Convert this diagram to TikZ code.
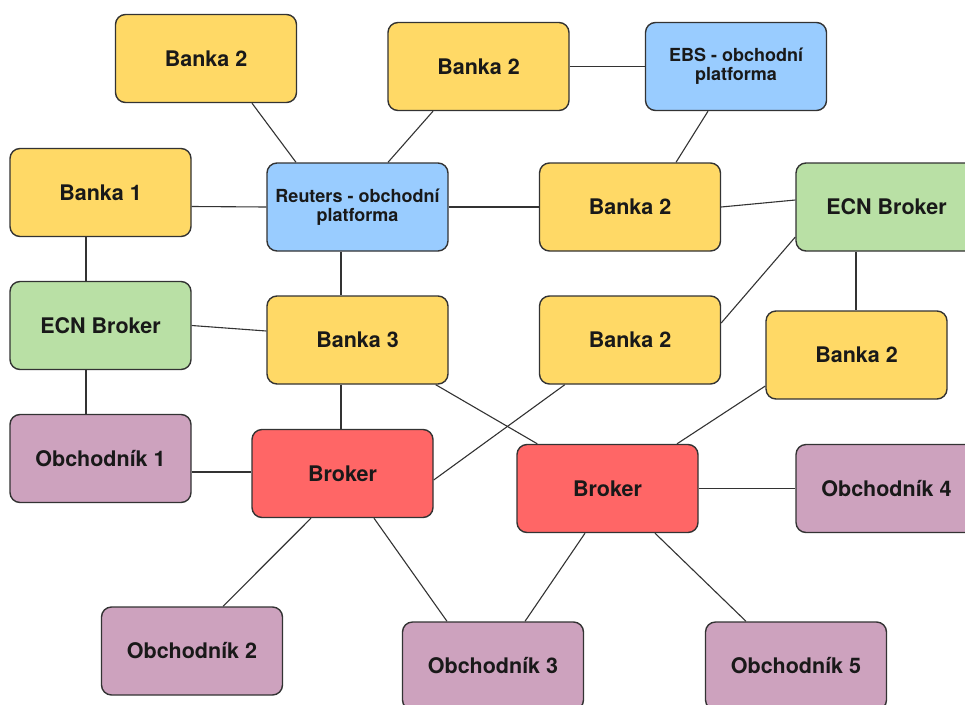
\documentclass[tikz,border=0pt]{standalone}
\usepackage{fontspec}
\setmainfont{TeX Gyre Heros}
\usepackage{tikz}
\usetikzlibrary{positioning}
\definecolor{bankfill}{HTML}{FFD966}
\definecolor{platfill}{HTML}{99CCFF}
\definecolor{ecnfill}{HTML}{B9E0A5}
\definecolor{brokfill}{HTML}{FF6666}
\definecolor{tradfill}{HTML}{CDA2BE}
\definecolor{edgecol}{HTML}{333333}

\begin{document}
\begin{tikzpicture}[x=1pt, y=-1pt,
        box/.style = {draw=edgecol, line width=1.4pt, rounded corners=10pt,
            minimum width=181pt, minimum height=88pt, inner sep=0pt,
            align=center, text=black!90,
            font=\bfseries\fontsize{21.5}{24}\selectfont},
        bank/.style = {box, fill=bankfill},
        platform/.style = {box, fill=platfill,
            font=\bfseries\fontsize{18}{19}\selectfont},
        ecn/.style = {box, fill=ecnfill},
        broker/.style = {box, fill=brokfill},
        trader/.style = {box, fill=tradfill},
        link/.style = {draw=edgecol, line width=1.1pt}]
    \clip (0,0) rectangle (965,704);
    \fill[white] (0,0) rectangle (965,704);

    \node[bank] (bankaA) at (206,58.5) {Banka 2};
    \node[bank] (bankaB) at (478.5,66.5) {Banka 2};
    \node[platform] (ebs) at (736,66.5) {EBS - obchodní\\platforma};
    \node[bank] (banka1) at (100.5,192.5) {Banka 1};
    \node[platform] (reuters) at (357.5,207) {Reuters - obchodní\\platforma};
    \node[bank] (bankaC) at (630,207) {Banka 2};
    \node[ecn] (ecnRight) at (886.5,207) {ECN Broker};
    \node[ecn] (ecnLeft) at (100.5,325.5) {ECN Broker};
    \node[bank] (banka3) at (357.5,340) {Banka 3};
    \node[bank] (bankaD) at (630,340) {Banka 2};
    \node[bank] (bankaE) at (856.5,355) {Banka 2};
    \node[trader] (obch1) at (100.5,458.5) {Obchodník 1};
    \node[broker] (brokerL) at (342.5,473.5) {Broker};
    \node[broker] (brokerR) at (607.5,488.5) {Broker};
    \node[trader] (obch4) at (886.5,488.5) {Obchodník 4};
    \node[trader] (obch2) at (192,651) {Obchodník 2};
    \node[trader] (obch3) at (493,666) {Obchodník 3};
    \node[trader] (obch5) at (796,666) {Obchodník 5};

    \draw[link] ([xshift=46pt]bankaA.south) -- ([xshift=-61.5pt]reuters.north);
    \draw[link] ([xshift=-45.5pt]bankaB.south) -- ([xshift=30.5pt]reuters.north);
    \draw[link] (bankaB.east) -- (ebs.west);
    \draw[link] ([xshift=-28pt]ebs.south) -- ([xshift=46pt]bankaC.north);
    \draw[link] ([yshift=-14pt]banka1.east) -- (reuters.west);
    \draw[link] (reuters.east) -- (bankaC.west);
    \draw[link] (bankaC.east) -- ([yshift=7pt]ecnRight.west);
    \draw[link] ([xshift=-14.5pt]banka1.south) -- ([xshift=-14.5pt]ecnLeft.north);
    \draw[link] ([xshift=-16.5pt]reuters.south) -- ([xshift=-16.5pt]banka3.north);
    \draw[link] (ecnLeft.east) -- ([yshift=9pt]banka3.west);
    \draw[link] ([yshift=-30pt]ecnRight.west) -- ([yshift=17pt]bankaD.east);
    \draw[link] ([xshift=-30.5pt]ecnRight.south) -- ([xshift=-0.5pt]bankaE.north);
    \draw[link] ([xshift=-16.5pt]banka3.south) -- ([xshift=-1.5pt]brokerL.north);
    \draw[link] ([xshift=-13pt]banka3.south east) -- ([xshift=21pt]brokerR.north west);
    \draw[link] ([xshift=26pt]bankaD.south west) -- ([yshift=-6.5pt]brokerL.east);
    \draw[link] ([yshift=-31pt]bankaE.west) -- ([xshift=69.5pt]brokerR.north);
    \draw[link] ([xshift=-14.5pt]ecnLeft.south) -- ([xshift=-14.5pt]obch1.north);
    \draw[link] ([yshift=-13.5pt]obch1.east) -- ([yshift=1.5pt]brokerL.west);
    \draw[link] (brokerR.east) -- (obch4.west);
    \draw[link] ([xshift=-31.5pt]brokerL.south) -- ([xshift=31pt]obch2.north);
    \draw[link] ([xshift=31.5pt]brokerL.south) -- ([xshift=-46pt]obch3.north);
    \draw[link] ([xshift=-22.5pt]brokerR.south) -- ([xshift=32pt]obch3.north);
    \draw[link] ([xshift=47.5pt]brokerR.south) -- ([xshift=-50pt]obch5.north);
\end{tikzpicture}
\end{document}
